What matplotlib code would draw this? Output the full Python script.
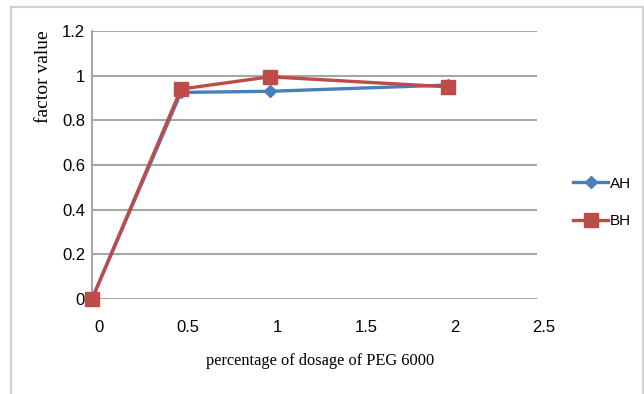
import matplotlib.pyplot as plt
import matplotlib.transforms as mtransforms
from matplotlib.patches import Rectangle

# data
dosage = [0, 0.5, 1, 2]
ah_values = [0.0, 0.925, 0.93, 0.958]
bh_values = [0.0, 0.94, 0.995, 0.95]

x_ticks = [0, 0.5, 1, 1.5, 2, 2.5]
y_ticks = [0, 0.2, 0.4, 0.6, 0.8, 1, 1.2]

tick_font = ['Liberation Sans Narrow', 'Liberation Sans', 'DejaVu Sans']
label_font = ['Liberation Serif', 'DejaVu Serif']


def main():
    fig = plt.figure(figsize=(6.44, 3.94), dpi=100)
    fig.patch.set_facecolor('white')

    # outer chart border
    fig.patches.append(Rectangle((11 / 644, -0.02), 632 / 644, 1 - 7 / 394 + 0.02,
                                 transform=fig.transFigure, fill=False,
                                 edgecolor='#d0d0d0', linewidth=1.5))

    ax = fig.add_axes([92 / 644, 1 - 299 / 394, 445 / 644, 268 / 394])

    ax.plot(dosage, ah_values, color='#4a7ebb', linewidth=2.4, marker='D',
            markersize=6.5, label='AH', clip_on=False, zorder=3)
    ax.plot(dosage, bh_values, color='#be4b48', linewidth=2.4, marker='s',
            markersize=9.5, label='BH', clip_on=False, zorder=4)

    ax.set_xlim(0, 2.5)
    ax.set_ylim(0, 1.2)
    ax.set_xticks(x_ticks)
    ax.set_yticks(y_ticks)
    ax.set_xticklabels([('%g' % v) for v in x_ticks], fontfamily=tick_font, fontsize=12)
    ax.set_yticklabels([('%g' % v) for v in y_ticks], fontfamily=tick_font, fontsize=12)
    ax.tick_params(axis='x', length=0, pad=15)
    ax.tick_params(axis='y', length=0, pad=5)

    # x tick labels sit a little right of their ticks in the original
    shift = mtransforms.ScaledTranslation(7 / 100, 0, fig.dpi_scale_trans)
    for lbl in ax.get_xticklabels():
        lbl.set_transform(lbl.get_transform() + shift)

    ax.grid(True, axis='y', color='#a6a6a6', linewidth=1.5)
    ax.set_axisbelow(True)
    for side in ['top', 'right', 'bottom']:
        ax.spines[side].set_visible(False)
    ax.spines['left'].set_color('#a6a6a6')
    ax.spines['left'].set_linewidth(1.5)

    ax.set_xlabel('percentage of dosage of PEG 6000', fontfamily=label_font,
                  fontsize=11.8)
    ax.xaxis.set_label_coords(0.512, -0.2)
    fig.text(43 / 644, 1 - 77 / 394, 'factor value', rotation=90, ha='center',
             va='center', fontfamily=label_font, fontsize=14)

    ax.legend(loc='center left', bbox_to_anchor=(1.05, 0.36), frameon=False,
              handlelength=2.3, handletextpad=0.1, labelspacing=1.55,
              prop={'family': tick_font, 'size': 11})

    fig.savefig('out.png', dpi=100)


if __name__ == '__main__':
    main()
